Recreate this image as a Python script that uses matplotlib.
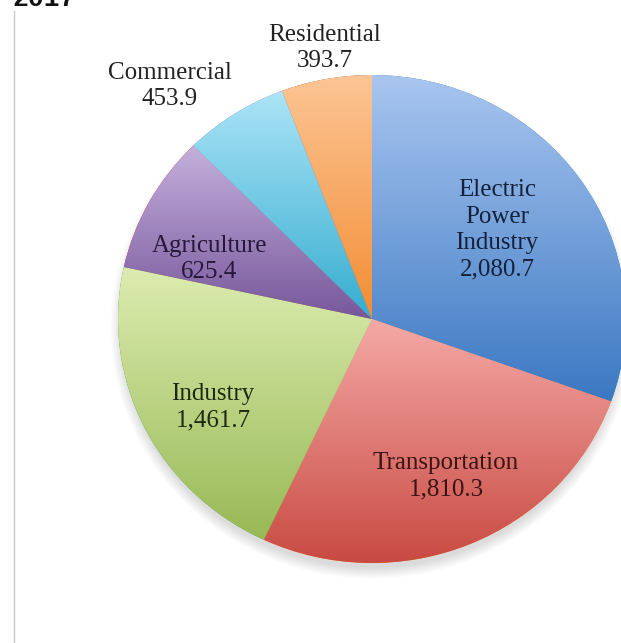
import numpy as np
import matplotlib
matplotlib.use("Agg")
import matplotlib.pyplot as plt
from matplotlib.colors import LinearSegmentedColormap
from matplotlib.patches import Ellipse
from matplotlib.lines import Line2D

# Greenhouse gas emissions by economic sector (MMT CO2 eq.)
sectors = ["Electric\nPower\nIndustry", "Transportation", "Industry",
           "Agriculture", "Commercial", "Residential"]
values = [2080.7, 1810.3, 1461.7, 625.4, 453.9, 393.7]

# light (top) -> dark (bottom) gradient for each slice
grad_top = ["#a9c6f0", "#f5a9a6", "#dcecb0", "#c4b0dc", "#ace4f7", "#fcc595"]
grad_bot = ["#3b78c2", "#c84a42", "#98b955", "#77579b", "#35adcf", "#f38d33"]
label_colors = ["#14213a", "#3a1414", "#1d2a10", "#26183a", "#222222", "#222222"]

W, H, DPI = 621, 643, 100
fig = plt.figure(figsize=(W / DPI, H / DPI), dpi=DPI)
fig.patch.set_facecolor("white")
ax = fig.add_axes([0, 0, 1, 1])

# pie geometry in pixel units
cx, cy, rx, ry = 372.0, 319.0, 254.0, 244.0


def set_limits():
    ax.set_xlim((0 - cx) / rx, (W - cx) / rx)
    ax.set_ylim((cy - H) / ry, (cy - 0) / ry)


def px(x, y):
    return (x - cx) / rx, (cy - y) / ry


# soft drop shadow under the pie
for k in range(12):
    s = 0.985 + 0.004 * k
    ax.add_patch(Ellipse((0, -0.035), 2 * s, 2 * s, facecolor="#000000",
                         alpha=0.012, edgecolor="none", zorder=1))

wedges, _ = ax.pie(values, startangle=90, counterclock=False, radius=1.0,
                   wedgeprops=dict(linewidth=0, edgecolor="none"))
ax.set_aspect("auto")
ax.axis("off")

grad = np.linspace(0, 1, 256).reshape(-1, 1)
for w, ct, cb in zip(wedges, grad_top, grad_bot):
    w.set_zorder(2)
    verts = w.get_path().vertices
    x0, x1 = verts[:, 0].min(), verts[:, 0].max()
    y0, y1 = verts[:, 1].min(), verts[:, 1].max()
    cmap = LinearSegmentedColormap.from_list("g", [cb, ct])
    im = ax.imshow(grad, cmap=cmap, aspect="auto", origin="lower",
                   extent=(x0, x1, y0, y1), zorder=3, interpolation="bicubic")
    im.set_clip_path(w)
set_limits()

# slice labels
fmt = [f"{v:,.1f}" for v in values]
label_pos = [(497, 230), (446, 476), (213, 407), (209, 259), (170, 86), (325, 48)]
font = dict(family="Liberation Serif", fontsize=18, ha="center", va="center",
            linespacing=1.27, zorder=5)
for name, val, (lx, ly), col in zip(sectors, fmt, label_pos, label_colors):
    x, y = px(lx, ly)
    ax.text(x, y, f"{name}\n{val}", color=col, **font)

# left frame rule and heading clipped at the top edge
fig.add_artist(Line2D([13.5 / W, 13.5 / W], [0, 1 - 11 / H], color="#c8c8c8",
                      linewidth=1.0))
fig.text(12 / W, 1 - 6 / H, "2017", family="Liberation Mono", fontweight="bold",
         fontsize=19, ha="left", va="baseline", color="#111111")

fig.savefig("out.png", dpi=DPI, facecolor="white")
